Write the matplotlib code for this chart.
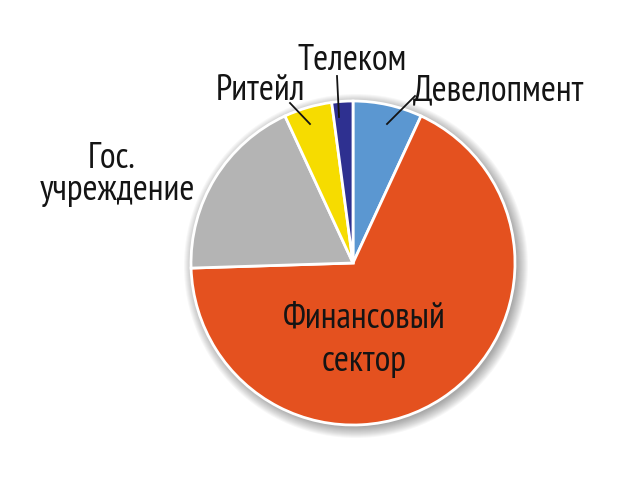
import matplotlib
matplotlib.use("Agg")
import matplotlib.pyplot as plt
from matplotlib.patches import Circle

labels = ["Девелопмент", "Финансовый сектор", "Гос. учреждение", "Ритейл", "Телеком"]
values = [6.9, 67.6, 18.6, 4.8, 2.1]
colors = ["#5b97d1", "#e4511f", "#b4b4b4", "#f6dc00", "#2e3090"]

fam = ["PT Sans Narrow", "Roboto Condensed", "DejaVu Sans"]

W, H = 643, 502
fig = plt.figure(figsize=(W / 100, H / 100), dpi=100)
ax = fig.add_axes([0, 0, 1, 1])

cx, cy, R = 353, H - 264, 162

# soft shadow
for i in range(12):
    ax.add_patch(Circle((cx + 3, cy - 3), R + 10 - i, color="black", alpha=0.03, lw=0, zorder=1))

ax.pie(values, colors=colors, startangle=90, counterclock=False, center=(cx, cy), radius=R,
       wedgeprops=dict(edgecolor="white", linewidth=2, zorder=2), frame=True)
ax.set_xlim(0, W)
ax.set_ylim(0, H)
ax.set_aspect("equal")
ax.axis("off")

fs = 26
tc = "#141414"
def txt(x, y, s, ha="left"):
    ax.text(x, H - y, s, fontsize=fs, family=fam, color=tc, ha=ha, va="baseline", zorder=5)

txt(413, 100, "Девелопмент")
txt(297, 70, "Телеком")
txt(216, 100, "Ритейл")
txt(88, 168, "Гос.")
txt(40, 200, "учреждение")
txt(364, 328, "Финансовый", ha="center")
txt(364, 371, "сектор", ha="center")

def line(x1, y1, x2, y2):
    ax.plot([x1, x2], [H - y1, H - y2], color=tc, lw=1.3, zorder=5)

line(415, 97, 387, 125)
line(337, 77, 339, 118)
line(290, 104, 310, 125)

fig.savefig("out.png", dpi=100)
